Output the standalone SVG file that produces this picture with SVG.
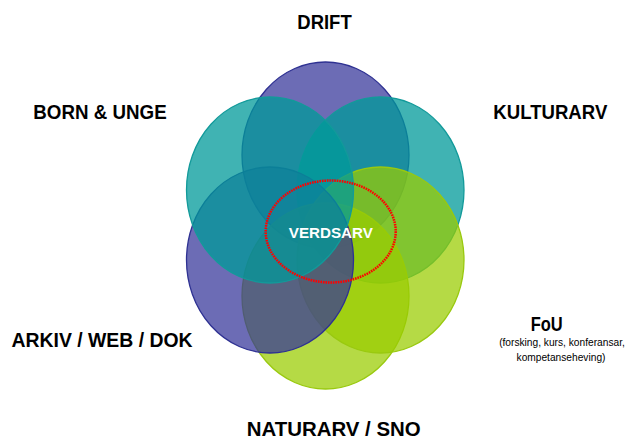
<svg xmlns="http://www.w3.org/2000/svg" width="627" height="440" viewBox="0 0 627 440">
<style>
.c{stroke-width:1.3}
.p{fill:#333399;fill-opacity:0.72;stroke:#2E3192}
.t{fill:#009999;fill-opacity:0.75;stroke:#129A9A}
.g{fill:#99CC00;fill-opacity:0.73;stroke:#99C90F}
.lbl{font-family:"Liberation Sans",Arial,sans-serif;font-weight:bold;font-size:20px;fill:#000;text-anchor:middle}
.sub{font-family:"Liberation Sans",Arial,sans-serif;font-size:10.2px;fill:#000;text-anchor:middle}
.ctr{font-family:"Liberation Sans",Arial,sans-serif;font-weight:bold;font-size:15.5px;fill:#fff;text-anchor:middle}
</style>
<rect width="627" height="440" fill="#fff"/>
<g id="drift"><ellipse class="c p" cx="325.5" cy="155" rx="83.5" ry="93"/></g>
<g id="kulturarv"><ellipse class="c t" cx="380.5" cy="190" rx="83.5" ry="93"/></g>
<g id="naturarv"><ellipse class="c g" cx="325.5" cy="296" rx="83.5" ry="93"/></g>
<g id="fou"><ellipse class="c g" cx="380.5" cy="260" rx="83.5" ry="93"/></g>
<g id="arkiv"><ellipse class="c p" cx="270" cy="260" rx="83.5" ry="93"/></g>
<g id="born"><ellipse class="c t" cx="270" cy="190" rx="83.5" ry="93"/></g>
<g id="verdsarv">
<ellipse cx="330.7" cy="231.5" rx="65" ry="51" fill="none" stroke="#FF0000" stroke-width="2.5" stroke-dasharray="1.6 0.9"/>
<text class="ctr" x="330.8" y="238" textLength="84" lengthAdjust="spacingAndGlyphs">VERDSARV</text>
</g>
<g id="labels">
<text class="lbl" x="324.5" y="28.5" textLength="54.4" lengthAdjust="spacingAndGlyphs">DRIFT</text>
<text class="lbl" x="100" y="119" textLength="133.4" lengthAdjust="spacingAndGlyphs">BORN &amp; UNGE</text>
<text class="lbl" x="550.3" y="119" textLength="114" lengthAdjust="spacingAndGlyphs">KULTURARV</text>
<text class="lbl" x="102" y="346.5" textLength="181" lengthAdjust="spacingAndGlyphs">ARKIV / WEB / DOK</text>
<text class="lbl" x="333.7" y="436" textLength="174" lengthAdjust="spacingAndGlyphs">NATURARV / SNO</text>
<text class="lbl" x="546.7" y="330.5" textLength="32" lengthAdjust="spacingAndGlyphs">FoU</text>
<text class="sub" x="562" y="346">(forsking, kurs, konferansar,</text>
<text class="sub" x="561" y="361">kompetanseheving)</text>
</g>
</svg>
